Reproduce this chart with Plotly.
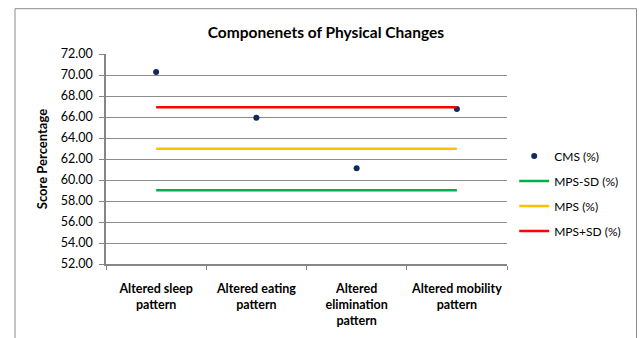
import plotly.graph_objects as go

categories = ["Altered sleep<br>pattern", "Altered eating<br>pattern",
              "Altered<br>elimination<br>pattern", "Altered mobility<br>pattern"]
cms = [70.29, 65.93, 61.11, 66.76]
mps_minus_sd = [59.03, 59.03, 59.03, 59.03]
mps = [62.98, 62.98, 62.98, 62.98]
mps_plus_sd = [66.93, 66.93, 66.93, 66.93]

FONT = "Lato"

fig = go.Figure()
fig.add_trace(go.Scatter(x=categories, y=cms, mode="markers", name="CMS (%)",
                         marker=dict(color="#0E2A5E", size=6), legendgroup="a"))
fig.add_trace(go.Scatter(x=categories, y=mps_minus_sd, mode="lines", name="MPS-SD (%)",
                         line=dict(color="#00B050", width=2.5), legendgroup="b"))
fig.add_trace(go.Scatter(x=categories, y=mps, mode="lines", name="MPS (%)",
                         line=dict(color="#FFC000", width=2.5), legendgroup="c"))
fig.add_trace(go.Scatter(x=categories, y=mps_plus_sd, mode="lines", name="MPS+SD (%)",
                         line=dict(color="#FF0000", width=2.5), legendgroup="d"))

fig.update_layout(
    width=639, height=338,
    margin=dict(l=106, r=132, t=54, b=74, autoexpand=False),
    paper_bgcolor="white", plot_bgcolor="white",
    font=dict(family=FONT, size=12, color="black"),
    title=dict(text="<b>Componenets of Physical Changes</b>", x=0.51, xanchor="center",
               y=0.905, yanchor="middle", font=dict(size=15.5, family=FONT, color="black")),
    showlegend=True,
    legend=dict(x=1.018, xanchor="left", y=0.336, yanchor="middle",
                font=dict(size=12, family=FONT), tracegroupgap=6,
                bgcolor="rgba(0,0,0,0)"),
    xaxis=dict(type="category", range=[-0.5, 3.5], showgrid=False,
               showline=True, linecolor="#868686", linewidth=1.5,
               ticks="outside", tickson="boundaries", ticklen=4, tickcolor="#868686",
               tickangle=0,
               tickfont=dict(family=FONT, size=12.5, color="black", weight="bold"),
               ticklabelstandoff=12, fixedrange=True),
    yaxis=dict(range=[52, 72], dtick=2, tick0=52, tickformat=".2f",
               showgrid=True, gridcolor="#8C8C8C", gridwidth=1,
               showline=True, linecolor="#868686", linewidth=1.5,
               ticks="outside", ticklen=5, tickcolor="#868686",
               ticklabelstandoff=4,
               tickfont=dict(family=FONT, size=12.5, color="black"),
               title=dict(text="<b>Score Percentage</b>", font=dict(size=13, family=FONT), standoff=10),
               zeroline=False, fixedrange=True),
)

fig.add_shape(type="rect", xref="paper", yref="paper",
              x0=(15 - 106) / 401, x1=(636.5 - 106) / 401,
              y0=(264 - 345) / 210, y1=(264 - 8.7) / 210,
              line=dict(color="#8C8C8C", width=1), fillcolor="rgba(0,0,0,0)", layer="below")

fig.write_html("out.html", config={"displayModeBar": False},
               post_script="document.body.style.margin='0';")
